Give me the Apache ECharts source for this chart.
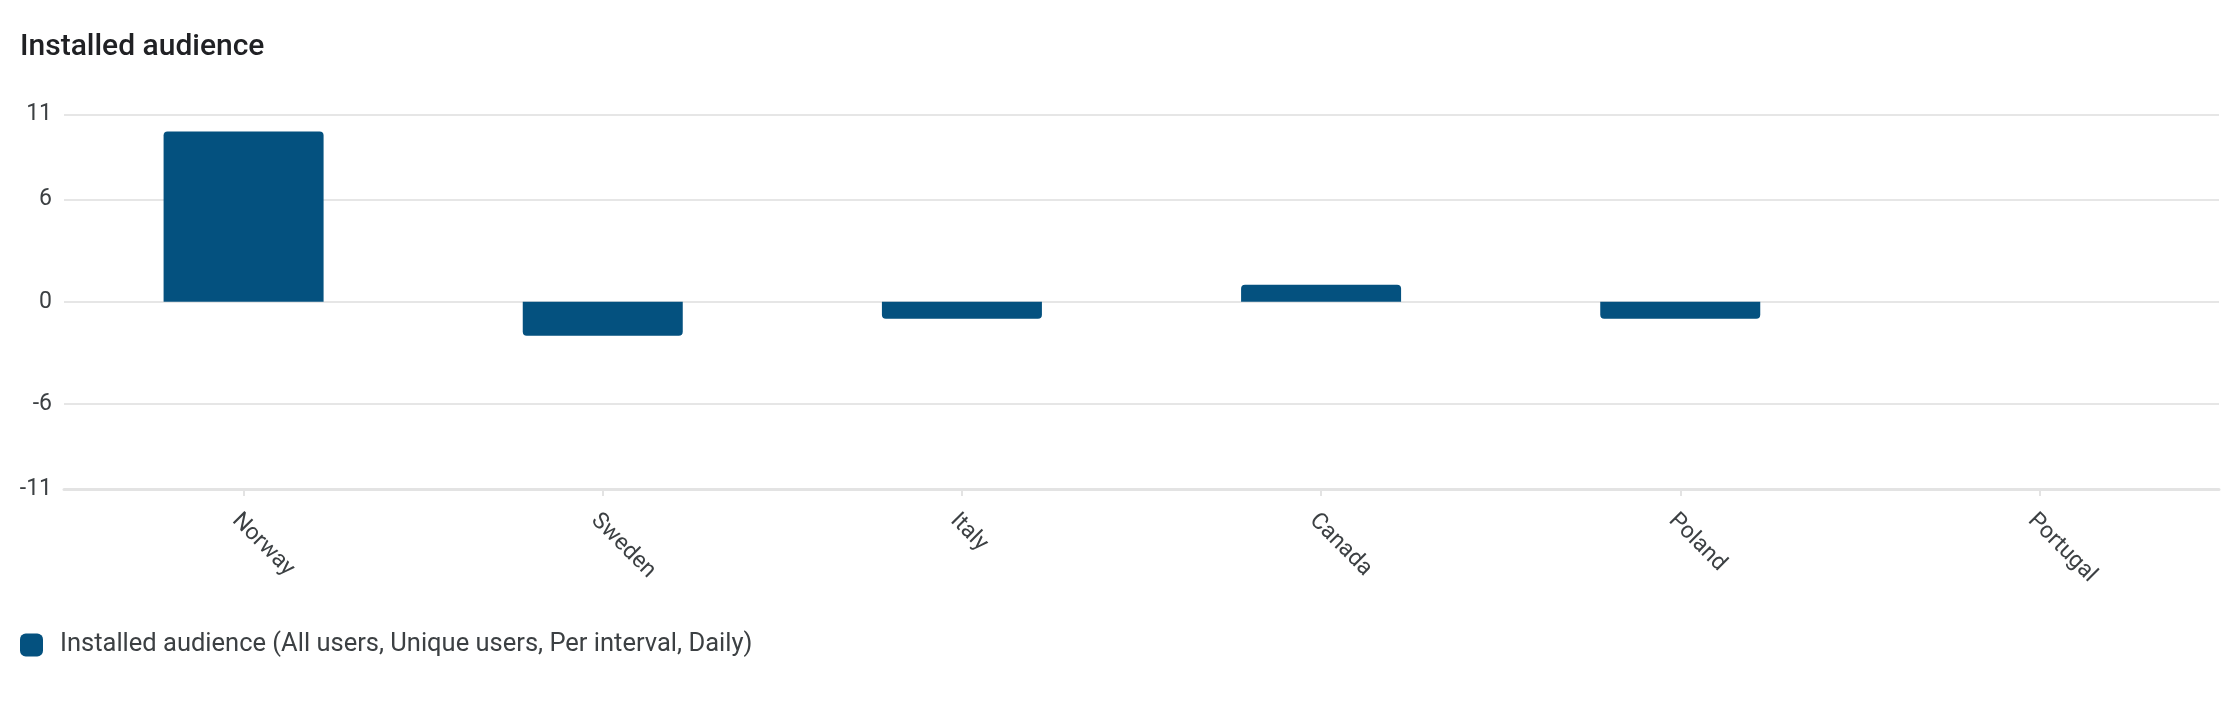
<!DOCTYPE html>
<html>
<head>
<meta charset="utf-8">
<script src="https://cdn.jsdelivr.net/npm/echarts@6/dist/echarts.min.js"></script>
<style>
html,body{margin:0;padding:0;background:#fff;}
#chart{width:2230px;height:709px;}
</style>
</head>
<body>
<div id="chart"></div>
<script>
const titleText = 'Installed audience';
const seriesName = 'Installed audience (All users, Unique users, Per interval, Daily)';
const categories = ['Norway', 'Sweden', 'Italy', 'Canada', 'Poland', 'Portugal'];
const values = [10, -2, -1, 1, -1, 0];
const yTicks = [-11, -6, 0, 6, 11];

const barColor = '#04517f';
const chart = echarts.init(document.getElementById('chart'));
chart.setOption({
  animation: false,
  backgroundColor: '#ffffff',
  title: {
    text: titleText,
    left: 15,
    top: 27,
    textStyle: { fontFamily: 'Roboto', fontSize: 30, fontWeight: 500, color: '#202124' }
  },
  legend: {
    left: 15,
    top: 627,
    icon: 'roundRect',
    itemWidth: 23,
    itemHeight: 23,
    textStyle: { fontFamily: 'Roboto', fontSize: 25.5, color: '#3c4043', padding: [0, 0, 0, 12] },
    data: [seriesName]
  },
  grid: { left: 64, right: 11, top: 114.5, bottom: 220 },
  xAxis: {
    type: 'category',
    data: categories,
    axisLine: { show: true, onZero: false, lineStyle: { color: '#e3e3e3', width: 3 } },
    axisTick: { show: true, alignWithLabel: true, length: 7, lineStyle: { color: '#e3e3e3', width: 2 } },
    axisLabel: { rotate: -45, margin: 20, verticalAlign: 'top', fontFamily: 'Roboto', fontSize: 23, color: '#3c4043' },
    splitLine: { show: false }
  },
  yAxis: {
    type: 'value',
    min: -11,
    max: 11,
    axisLine: { show: false },
    axisTick: { show: false, customValues: yTicks },
    axisLabel: { customValues: yTicks, margin: 12, fontFamily: 'Roboto', fontSize: 23, color: '#3c4043' },
    splitLine: { show: true, lineStyle: { color: '#e6e6e6', width: 2 } }
  },
  series: [{
    name: seriesName,
    type: 'bar',
    barWidth: 160,
    itemStyle: { color: barColor },
    data: values.map(v => ({
      value: v,
      itemStyle: { borderRadius: v >= 0 ? [4, 4, 0, 0] : [0, 0, 4, 4] }
    }))
  }]
});
</script>
</body>
</html>
